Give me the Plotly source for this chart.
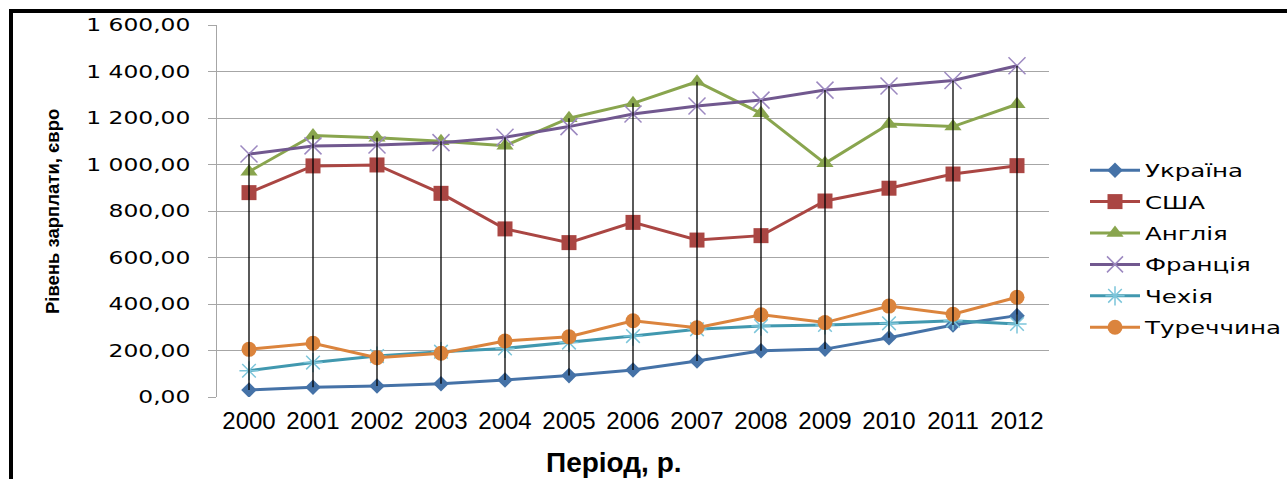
import plotly.graph_objects as go

# Average monthly wage by country, EUR
years = ["2000", "2001", "2002", "2003", "2004", "2005", "2006",
         "2007", "2008", "2009", "2010", "2011", "2012"]

ukraine = [30, 42, 47, 57, 73, 92, 116, 155, 199, 206, 255, 310, 350]
usa = [879, 994, 998, 876, 723, 664, 751, 675, 694, 843, 898, 959, 995]
england = [969, 1125, 1115, 1100, 1081, 1199, 1263, 1356, 1220, 1005, 1174, 1163, 1259]
france = [1045, 1080, 1084, 1094, 1117, 1163, 1217, 1252, 1277, 1320, 1338, 1361, 1425]
czech = [113, 148, 176, 195, 209, 234, 262, 291, 305, 310, 317, 328, 314]
turkey = [205, 231, 169, 188, 241, 259, 328, 298, 354, 320, 391, 356, 429]

series_names = ["Україна", "США", "Англія", "Франція", "Чехія", "Туреччина"]
series_values = [ukraine, usa, england, france, czech, turkey]

line_colors = ["#4572A7", "#AA4643", "#89A54E", "#71588F", "#4198AF", "#DB843D"]
marker_colors = ["#4572A7", "#AA4643", "#89A54E", "#9C88C0", "#7CC5DA", "#DB843D"]
symbols = ["diamond", "square", "triangle-up", "x-thin-open", "asterisk-open", "circle"]
marker_sizes = [12, 15, 15, 17, 16, 15]

W, H = 1287, 479
L, R, T, B = 217, 1049, 25, 397  # plot area in pixels


def px(x):
    return (x - L) / (R - L)


def py(y):
    return (B - y) / (B - T)


fig = go.Figure()

for i, (name, vals) in enumerate(zip(series_names, series_values)):
    thin = symbols[i] in ("x-thin-open", "asterisk-open")
    fig.add_trace(go.Scatter(
        x=years, y=vals, name=name, mode="lines+markers",
        legendgroup=name,
        line=dict(color=line_colors[i], width=3),
        marker=dict(symbol=symbols[i], size=marker_sizes[i],
                    color=marker_colors[i],
                    line=dict(color=marker_colors[i], width=1.5 if thin else 0)),
    ))

# high-low lines between the highest and lowest value of each year
hl_x, hl_y = [], []
for j, yr in enumerate(years):
    col = [s[j] for s in series_values]
    hl_x += [yr, yr, None]
    hl_y += [max(col), min(col), None]
fig.add_trace(go.Scatter(
    x=hl_x, y=hl_y, mode="lines", showlegend=False, hoverinfo="skip",
    line=dict(color="black", width=1.3),
))

fig.update_layout(
    width=W, height=H,
    margin=dict(l=L, r=W - R, t=T, b=H - B, pad=0),
    paper_bgcolor="white", plot_bgcolor="white",
    separators=", ",
    font=dict(family="DejaVu Sans", color="black"),
    showlegend=True,
    legend=dict(
        x=px(1085), y=py(249), xanchor="left", yanchor="middle",
        font=dict(family="DejaVu Sans", size=18, color="black"),
        tracegroupgap=5, itemwidth=50, bgcolor="rgba(0,0,0,0)",
    ),
    xaxis=dict(
        type="category", range=[-0.5, 12.5],
        showgrid=False, zeroline=False, showline=False, ticks="",
        tickfont=dict(family="Liberation Sans", size=24, color="black"),
        ticklabelstandoff=7,
    ),
    yaxis=dict(
        range=[0, 1600], dtick=200, tickformat=",.2f",
        showgrid=True, gridcolor="#A6A6A6", gridwidth=1,
        zeroline=False, showline=True, linecolor="#A6A6A6", linewidth=1,
        ticks="outside", ticklen=8, tickcolor="#A6A6A6", tickwidth=1,
        tickfont=dict(family="DejaVu Sans", size=18, color="black"),
        ticklabelstandoff=14,
    ),
    annotations=[
        dict(text="<b>Рівень зарплати, євро</b>", textangle=-90,
             xref="paper", yref="paper", x=px(52), y=py(212),
             xanchor="center", yanchor="middle", showarrow=False,
             font=dict(family="Liberation Sans", size=18.5, color="black")),
        dict(text="<b>Період, р.</b>",
             xref="paper", yref="paper", x=px(614), y=py(462),
             xanchor="center", yanchor="middle", showarrow=False,
             font=dict(family="Liberation Sans", size=28, color="black")),
    ],
    shapes=[
        dict(type="rect", xref="paper", yref="paper",
             x0=px(11), x1=px(1300), y0=py(11), y1=py(520),
             line=dict(color="black", width=4), fillcolor="rgba(0,0,0,0)",
             layer="above"),
    ],
)

# horizontally stretched lettering for the value labels and legend entries
stretch_js = """
var gd = document.getElementById('{plot_id}');
function stretch(sel, k) {
  gd.querySelectorAll(sel).forEach(function (t) {
    t.removeAttribute('textLength');
    var w = t.getComputedTextLength();
    t.setAttribute('lengthAdjust', 'spacingAndGlyphs');
    t.setAttribute('textLength', (w * k).toFixed(1));
  });
}
function widen() {
  stretch('.ytick text', 1.3);
  stretch('.legendtext', 1.36);
  gd.querySelectorAll('.legend .scrollbox').forEach(function (e) {
    e.removeAttribute('clip-path');
  });
}
widen();
gd.on('plotly_afterplot', widen);
"""

fig.write_html("out.html", post_script=stretch_js)
